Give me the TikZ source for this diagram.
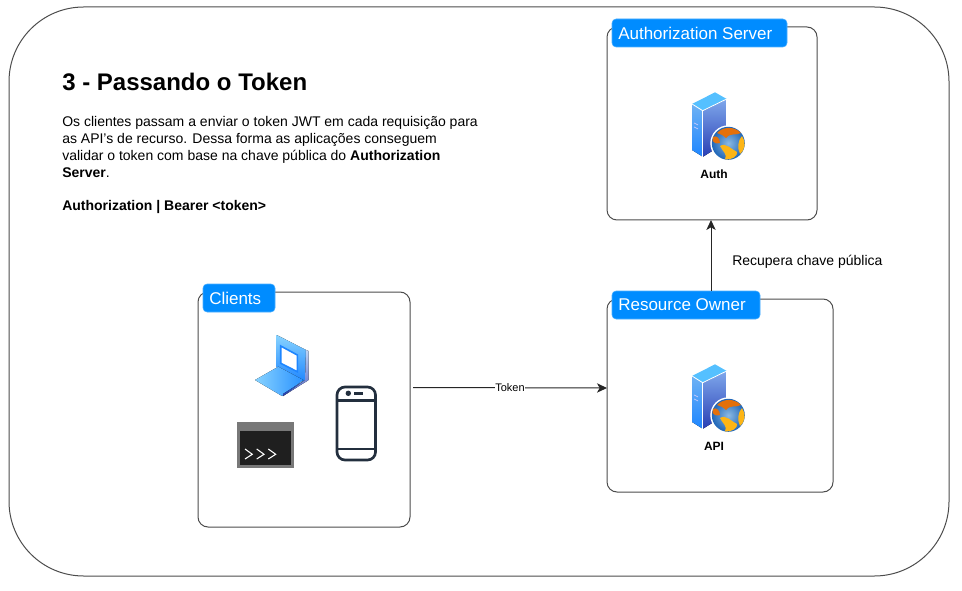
\documentclass[tikz,border=0pt]{standalone}
\usepackage{fontspec}
\setmainfont{Liberation Sans}
\usetikzlibrary{arrows.meta}
\definecolor{tabblue}{HTML}{008CFF}
\definecolor{phonedark}{HTML}{232F3E}
\definecolor{sky}{HTML}{55C0FF}
\definecolor{midblue}{HTML}{1E86FF}
\definecolor{paleblue}{HTML}{7FA8EC}
\definecolor{deepblue}{HTML}{2A3FB4}
\definecolor{seablue}{HTML}{6FA8DC}
\definecolor{seadark}{HTML}{1F66B8}
\definecolor{landdark}{HTML}{E4700A}
\definecolor{landgold}{HTML}{FDB515}
\def\px{0.75pt}
\tikzset{
	area/.style={draw=black!70,line width=\px,rounded corners=7.5pt,inner sep=0,outer sep=0},
	tab/.style={fill=tabblue,draw=tabblue!70!white,line width=0.4pt,rounded corners=3pt,inner sep=0,outer sep=0},
	tablabel/.style={anchor=west,text=white,inner sep=0,font=\fontsize{12.75pt}{15pt}\selectfont},
	flow/.style={draw=black!85,line width=\px,-{Stealth[length=7.5pt,width=7pt,inset=2pt]}},
	pics/serverglobe/.style={code={
		\fill [top color=paleblue!60!sky,bottom color=midblue] (32,24) -- (42.7,30.7) -- (42.7,76.7) -- (32,70) -- cycle;
		\fill [top color=paleblue,bottom color=deepblue] (43,31) -- (66.7,19) -- (66.7,62) -- (43,76.7) -- cycle;
		\fill [sky] (32,24) -- (55,12.3) -- (66.7,19) -- (42.7,30.7) -- cycle;
		\draw [white,line width=0.6pt] (32,24) -- (42.7,30.7) -- (66.7,19);
		\draw [white,line width=0.6pt] (42.7,30.7) -- (42.7,76.7);
		\draw [white,line width=0.6pt] (66.7,19) -- (66.7,50);
		\draw [white!80!blue,line width=0.5pt] (34,43) -- (38,45) (34,47) -- (38,49);
		\fill [white] (68.3,63.3) circle [radius=18];
		\shade [inner color=seablue!80!white,outer color=seadark] (68.3,63.3) circle [radius=16.5];
		\fill [landdark] (57,53) .. controls (63,46.5) and (74,46) .. (81,53) .. controls (76,56) and (71,52) .. (66,58) .. controls (63,55) and (60,54) .. (57,53) -- cycle;
		\fill [landgold] (82,56) .. controls (86,62) and (85.5,69) .. (80,74) .. controls (77,68) and (78,60) .. (82,56) -- cycle;
		\fill [landgold] (60,66) .. controls (66,62) and (72,70) .. (77,72) .. controls (78,76) and (72,80) .. (65,79.5) .. controls (68,74) and (62,71) .. (60,66) -- cycle;
		\fill [landdark] (53,57) .. controls (56,55) and (60,58) .. (60,63) .. controls (56,64) and (54,63) .. (52.5,61) -- cycle;
	}},
	pics/laptop/.style={code={
		\fill [top color=sky!70!white,bottom color=midblue] (276.7,335) -- (306,350) -- (306,382) -- (302,381) -- (276.7,367) -- cycle;
		\fill [white] (280.7,346) -- (297.3,355) -- (297.3,371.7) -- (280.7,363.3) -- cycle;
		\draw [midblue,line width=1.2pt] (280.7,346) -- (297.3,355) -- (297.3,371.7) -- (280.7,363.3) -- cycle;
		\fill [left color=sky!70!white,right color=midblue!80!sky] (255,380) -- (278.3,366.7) -- (303.3,380) -- (282,396) -- cycle;
		\fill [left color=deepblue,right color=midblue] (283,396) -- (305,381.5) -- (305,380) -- (283,394) -- cycle;
		\fill [top color=paleblue!50!white,bottom color=deepblue!80!white] (306,350) -- (308.6,351) -- (308.6,380) -- (283,396) -- (305,380) -- cycle;
	}},
	pics/terminal/.style={code={
		\fill [black!53] (236.7,421.7) rectangle (294,467.7);
		\fill [black!88] (240,431) rectangle (291,465);
		\draw [white,line width=0.8pt] (245,449) -- (252.3,454.3) -- (245,459);
		\draw [white,line width=0.8pt] (256.7,449) -- (264,454.3) -- (256.7,459);
		\draw [white,line width=0.8pt] (268.3,449) -- (275.7,454.3) -- (268.3,459);
	}},
	pics/phone/.style={code={
		\draw [phonedark,line width=2pt,rounded corners=6pt] (337,387) rectangle (375.5,460);
		\draw [phonedark,line width=2pt] (337,400.5) -- (375.5,400.5);
		\draw [phonedark,line width=2pt] (337,449) -- (375.5,449);
		\fill [phonedark] (348.3,393.3) circle [radius=2.7];
		\fill [phonedark] (354.3,392) rectangle (363.3,395);
	}},
}
\begin{document}
\begin{tikzpicture}[x=\px,y=-\px]
	\useasboundingbox (0,0) rectangle (962,591);
	% frame
	\node [area,rounded corners=56pt,minimum width=940*\px,minimum height=569*\px] (frame) at (479,291.5) {};
	% text
	\node [anchor=base west,inner sep=0,font=\bfseries\fontsize{18pt}{20pt}\selectfont] (title) at (62,91) {3 - Passando o Token};
	\node [anchor=north west,inner sep=0,align=left,font=\fontsize{10.5pt}{12.6pt}\selectfont] (intro) at (62,116.5) {Os clientes passam a enviar o token JWT em cada requisição para\\as API's de recurso. Dessa forma as aplicações conseguem\\validar o token com base na chave pública do \textbf{Authorization}\\\textbf{Server}.\\[12.6pt]\textbf{Authorization | Bearer <token>}};
	% boxes
	\node [area,minimum width=210*\px,minimum height=193*\px] (authbox) at (712,123.5) {};
	\node [area,minimum width=212*\px,minimum height=235*\px] (clientsbox) at (304,409.5) {};
	\node [area,minimum width=226*\px,minimum height=193*\px] (resourcebox) at (720,395.5) {};
	\node [tab,minimum width=175*\px,minimum height=28*\px] (authtab) at (699.5,33) {};
	\node [tab,minimum width=72*\px,minimum height=28*\px] (clientstab) at (239,298) {};
	\node [tab,minimum width=148*\px,minimum height=28*\px] (resourcetab) at (686,305) {};
	\node [tablabel] (authlabel) at (618,33) {Authorization Server};
	\node [tablabel] (clientslabel) at (209,298) {Clients};
	\node [tablabel] (resourcelabel) at (618,305) {Resource Owner};
	% icons
	\pic (authicon) at (660,80) {serverglobe};
	\pic (apiicon) at (660,352) {serverglobe};
	\pic (laptopicon) at (0,0) {laptop};
	\pic (terminalicon) at (0,0) {terminal};
	\pic (phoneicon) at (0,0) {phone};
	\node [inner sep=0,font=\bfseries\fontsize{9pt}{10pt}\selectfont] (authname) at (714,174.5) {Auth};
	\node [inner sep=0,font=\bfseries\fontsize{9pt}{10pt}\selectfont] (apiname) at (714,446.5) {API};
	% connectors
	\coordinate (tokenstart) at (413,387.5);
	\coordinate (tokenend) at (607,388);
	\coordinate (keystart) at (711,291);
	\coordinate (keyend) at (711,220);
	\draw [flow] (tokenstart) -- (tokenend) node [midway,fill=white,inner sep=0.5pt,text=black,font=\fontsize{8.25pt}{10pt}\selectfont] (tokenlabel) {Token};
	\draw [flow] (keystart) -- (keyend);
	\node [anchor=west,inner sep=0,font=\fontsize{10.5pt}{11pt}\selectfont] (keylabel) at (732,262) {Recupera chave pública};
\end{tikzpicture}
\end{document}
